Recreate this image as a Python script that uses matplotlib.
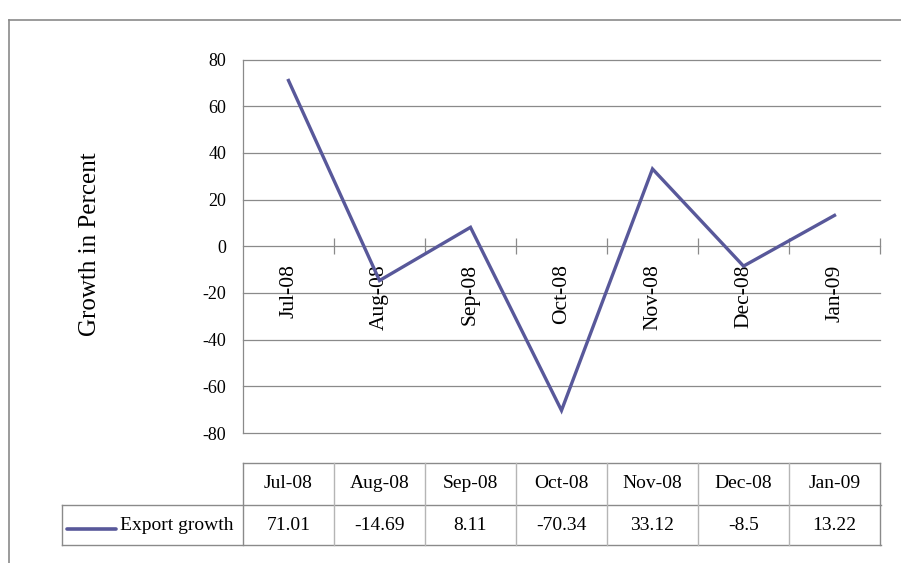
import matplotlib
matplotlib.use("Agg")
import matplotlib.pyplot as plt
from matplotlib.lines import Line2D
from matplotlib.transforms import blended_transform_factory

months = ["Jul-08", "Aug-08", "Sep-08", "Oct-08", "Nov-08", "Dec-08", "Jan-09"]
export_growth = [71.01, -14.69, 8.11, -70.34, 33.12, -8.5, 13.22]
series_name = "Export growth"
y_ticks = [-80, -60, -40, -20, 0, 20, 40, 60, 80]
y_label = "Growth in Percent"

W, H = 901, 563
LINE_COLOR = "#58589A"
GRID_COLOR = "#8a8a8a"
SERIF = ["Liberation Serif", "DejaVu Serif"]

plt.rcParams["font.family"] = SERIF

fig = plt.figure(figsize=(W / 100, H / 100), dpi=100)
fig.patch.set_facecolor("white")


def fx(px):
    return px / W


def fy(py):
    return 1 - py / H


# plot area
ax = fig.add_axes([fx(243), fy(433), fx(880) - fx(243), fy(59.5) - fy(433)])
n = len(months)
xs = list(range(n))
ax.set_xlim(-0.5, n - 0.5)
ax.set_ylim(y_ticks[0], y_ticks[-1])

ax.plot(xs, export_growth, color=LINE_COLOR, lw=2.4, solid_joinstyle="miter",
        zorder=5, clip_on=False)

# horizontal gridlines
for v in y_ticks:
    if v != 0:
        ax.axhline(v, color=GRID_COLOR, lw=0.9, zorder=1, clip_on=False)

for s in ["top", "right"]:
    ax.spines[s].set_visible(False)
ax.spines["left"].set_color(GRID_COLOR)
ax.spines["left"].set_linewidth(0.9)
ax.spines["bottom"].set_position(("data", 0))
ax.spines["bottom"].set_color(GRID_COLOR)
ax.spines["bottom"].set_linewidth(0.9)

ax.set_yticks(y_ticks)
ax.set_yticklabels([str(v) for v in y_ticks], fontsize=13)
ax.tick_params(axis="y", length=0, pad=12)

# category boundaries as crossing ticks, labels at category centres
ax.set_xticks([i + 0.5 for i in range(n)])
ax.set_xticklabels([])
ax.tick_params(axis="x", which="major", direction="inout", length=12,
               width=0.9, color=GRID_COLOR)
ax.set_xticks(xs, minor=True)
ax.set_xticklabels(months, minor=True, rotation=90, fontsize=15.5)
ax.tick_params(axis="x", which="minor", length=0, pad=13)
for lbl in ax.get_xticklabels(minor=True):
    lbl.set_va("top")

fig.text(fx(90), fy(244), y_label, rotation=90, ha="center", va="center",
         fontsize=18)

# data table under the chart
tr = blended_transform_factory(ax.transData, fig.transFigure)
row_top, row_mid, row_bot = fy(463), fy(505), fy(545)
edge_dark = "#8a8a8a"
edge_light = "#b5b5b5"

fig.add_artist(Line2D([-0.5, n - 0.5], [row_top, row_top], transform=tr,
                      color=edge_dark, lw=1))
fig.add_artist(Line2D([fx(62), fx(881)], [row_mid, row_mid],
                      transform=fig.transFigure, color=edge_dark, lw=1))
fig.add_artist(Line2D([fx(62), fx(881)], [row_bot, row_bot],
                      transform=fig.transFigure, color=edge_dark, lw=1))
fig.add_artist(Line2D([fx(62), fx(62)], [row_mid, row_bot],
                      transform=fig.transFigure, color=edge_dark, lw=1))
for i in range(n + 1):
    b = i - 0.5
    c = edge_dark if i in (0, n) else edge_light
    fig.add_artist(Line2D([b, b], [row_top, row_bot], transform=tr,
                          color=c, lw=1))

for i, (m, v) in enumerate(zip(months, export_growth)):
    fig.text(i, (row_top + row_mid) / 2, m, transform=tr, ha="center",
             va="center", fontsize=14)
    fig.text(i, (row_mid + row_bot) / 2, str(v), transform=tr, ha="center",
             va="center", fontsize=14)

fig.add_artist(Line2D([fx(67), fx(116)], [fy(529), fy(529)],
                      transform=fig.transFigure, color=LINE_COLOR, lw=2.6,
                      solid_capstyle="round"))
fig.text(fx(120), (row_mid + row_bot) / 2, series_name, ha="left",
         va="center", fontsize=14)

# outer chart frame
fig.add_artist(Line2D([fx(9), fx(9)], [fy(19.5), 0], transform=fig.transFigure,
                      color="#8a8a8a", lw=1.2))
fig.add_artist(Line2D([fx(9), 1], [fy(19.5), fy(19.5)],
                      transform=fig.transFigure, color="#8a8a8a", lw=1.2))

fig.savefig("out.png", dpi=100)
